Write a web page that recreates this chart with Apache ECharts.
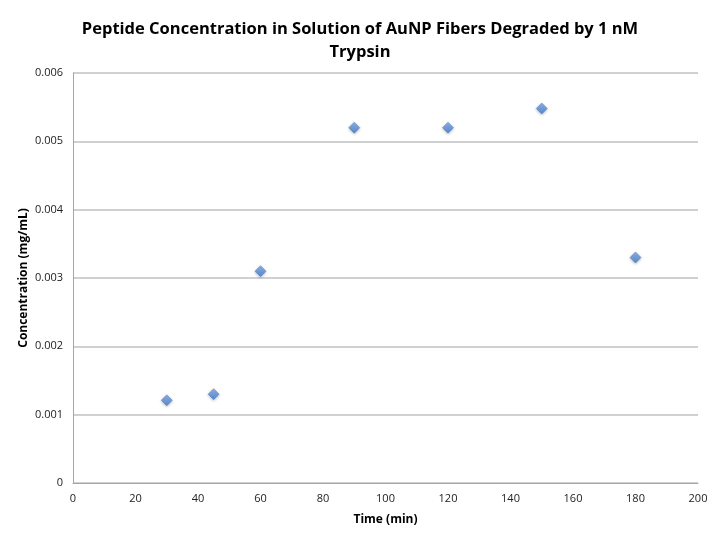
<!DOCTYPE html>
<html>
<head>
<meta charset="utf-8">
<script src="https://cdn.jsdelivr.net/npm/echarts@6/dist/echarts.min.js"></script>
<style>html,body{margin:0;padding:0;background:#fff;}#c{width:720px;height:540px;}</style>
</head>
<body>
<div id="c"></div>
<script>
const titleText = 'Peptide Concentration in Solution of AuNP Fibers Degraded by 1 nM\nTrypsin';
const xName = 'Time (min)';
const yName = 'Concentration (mg/mL)';
const times = [30, 45, 60, 90, 120, 150, 180];
const concentrations = [0.00121, 0.0013, 0.0031, 0.0052, 0.0052, 0.00548, 0.0033];

const chart = echarts.init(document.getElementById('c'));
const font = '"Open Sans", "Liberation Sans", sans-serif';
chart.setOption({
  animation: false,
  backgroundColor: '#fff',
  title: {
    text: titleText,
    left: 'center',
    top: 13,
    textStyle: {fontFamily: font, fontSize: 16.5, fontWeight: 'bold', color: '#000', lineHeight: 23}
  },
  grid: {left: 73, right: 22, top: 73, bottom: 57, containLabel: false},
  xAxis: {
    type: 'value', min: 0, max: 200, interval: 20,
    name: xName, nameLocation: 'middle', nameGap: 31,
    nameTextStyle: {fontFamily: font, fontSize: 12, fontWeight: 'bold', color: '#000'},
    axisLine: {show: true, lineStyle: {color: '#a6a6a6', width: 1}},
    axisTick: {show: false},
    splitLine: {show: false},
    axisLabel: {fontFamily: font, fontSize: 11, color: '#222', margin: 10}
  },
  yAxis: {
    type: 'value', min: 0, max: 0.006, interval: 0.001,
    name: yName, nameLocation: 'middle', nameGap: 43, nameMoveOverlap: false,
    nameTextStyle: {fontFamily: font, fontSize: 12, fontWeight: 'bold', color: '#000'},
    axisLine: {show: true, lineStyle: {color: '#a6a6a6', width: 1}},
    axisTick: {show: false},
    splitLine: {show: true, lineStyle: {color: '#c0c0c0', width: 1.5}},
    axisLabel: {fontFamily: font, fontSize: 11, color: '#222', margin: 10,
      formatter: v => v === 0 ? '0' : v.toFixed(3)}
  },
  series: [{
    type: 'scatter',
    data: times.map((t, i) => [t, concentrations[i]]),
    symbol: 'diamond',
    symbolSize: 11,
    itemStyle: {
      color: new echarts.graphic.LinearGradient(0, 0, 0, 1, [
        {offset: 0, color: '#7aa8e8'}, {offset: 1, color: '#3f78cc'}
      ]),
      borderColor: '#3f76c4', borderWidth: 0.6,
      shadowColor: 'rgba(0,0,0,0.3)', shadowBlur: 3, shadowOffsetY: 1
    }
  }]
});
</script>
</body>
</html>
